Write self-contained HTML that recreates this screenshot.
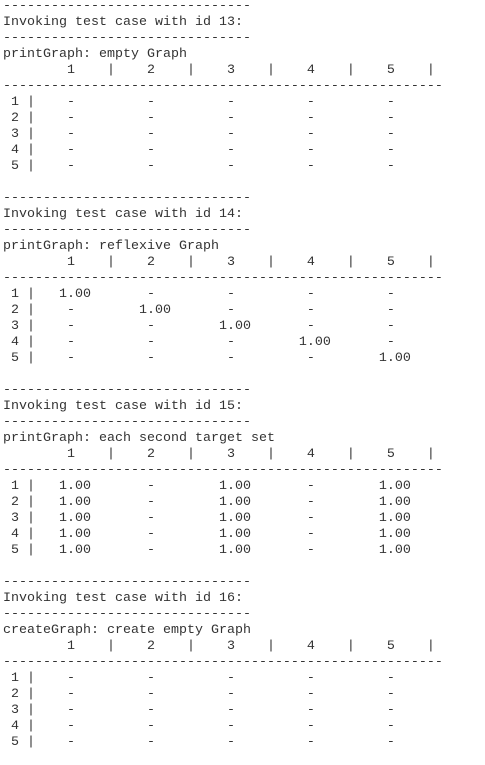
<!DOCTYPE html>
<html><head><meta charset="utf-8"><style>
html,body{margin:0;padding:0;background:#fff;width:485px;height:765px;overflow:hidden}
pre{margin:0;position:absolute;left:3px;top:-1px;font-family:"Liberation Mono",monospace;font-size:13.33px;line-height:16px;color:#333}
</style></head><body>
<pre><span>-------------------------------
Invoking test case with id 13:
-------------------------------
printGraph: empty Graph
        1    |    2    |    3    |    4    |    5    |
-------------------------------------------------------
 1 |    -         -         -         -         -
 2 |    -         -         -         -         -
 3 |    -         -         -         -         -
 4 |    -         -         -         -         -
 5 |    -         -         -         -         -
</span>
<span>-------------------------------
Invoking test case with id 14:
-------------------------------
printGraph: reflexive Graph
        1    |    2    |    3    |    4    |    5    |
-------------------------------------------------------
 1 |   1.00       -         -         -         -
 2 |    -        1.00       -         -         -
 3 |    -         -        1.00       -         -
 4 |    -         -         -        1.00       -
 5 |    -         -         -         -        1.00
</span>
<span>-------------------------------
Invoking test case with id 15:
-------------------------------
printGraph: each second target set
        1    |    2    |    3    |    4    |    5    |
-------------------------------------------------------
 1 |   1.00       -        1.00       -        1.00
 2 |   1.00       -        1.00       -        1.00
 3 |   1.00       -        1.00       -        1.00
 4 |   1.00       -        1.00       -        1.00
 5 |   1.00       -        1.00       -        1.00
</span>
<span>-------------------------------
Invoking test case with id 16:
-------------------------------
createGraph: create empty Graph
        1    |    2    |    3    |    4    |    5    |
-------------------------------------------------------
 1 |    -         -         -         -         -
 2 |    -         -         -         -         -
 3 |    -         -         -         -         -
 4 |    -         -         -         -         -
 5 |    -         -         -         -         -</span></pre>
</body></html>
